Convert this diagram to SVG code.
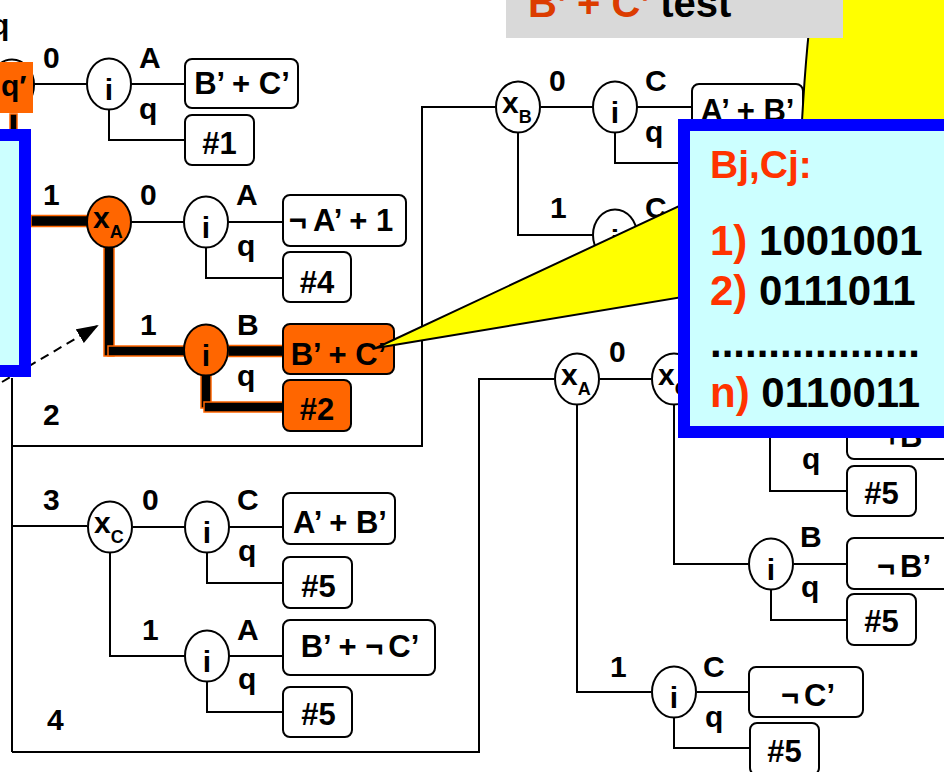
<svg xmlns="http://www.w3.org/2000/svg" width="944" height="772" viewBox="0 0 944 772">
<defs>
<style>
.ln{fill:none;stroke:#000;stroke-width:2}
.hl{fill:#000;stroke:#ff6600;stroke-width:1.5}
.nd{fill:#fff;stroke:#000;stroke-width:2}
.ndo{fill:#ff6600;stroke:#000;stroke-width:2}
.bx{fill:#fff;stroke:#000;stroke-width:2}
.bxo{fill:#ff6600;stroke:#000;stroke-width:2}
text{font-family:"Liberation Sans",Arial,Helvetica,sans-serif;font-weight:bold;fill:#000}
.lb{font-size:30px}
.bt{font-size:31px;text-anchor:middle}
.nt{font-size:30px;text-anchor:middle}
.xt{font-size:30px}
.sub{font-size:18px}
.ct{font-size:42px}
.red{fill:#ff3300}
.panel{fill:#ccffff;stroke:#0000ff;stroke-width:12}
</style>
<marker id="ah" markerUnits="userSpaceOnUse" markerWidth="22" markerHeight="16" refX="20" refY="8" orient="auto"><path d="M0,0 L22,8 L0,16 Z" fill="#000"/></marker>
</defs>
<rect x="0" y="0" width="944" height="772" fill="#fff"/>

<g id="connectors">
<path class="ln" d="M34,84 H87 M131,84 H185 M109,109 V140 H185 M131,222 H184 M228,222 H283 M206,247 V278 H283"/>
<path class="ln" d="M12,378 V752 M12,446 H422 V107 H495 M541,107 H593 M637,107 H700 M615,132 V163 H700 M518,133 V235 H593 M637,235 H700"/>
<path class="ln" d="M12,526 H87 M133,527 H185 M229,527 H283 M207,552 V583 H283 M110,553 V656 H185 M229,656 H283 M207,681 V712 H283"/>
<path class="ln" d="M12,752 H479 V379 H554 M600,379 H651 M697,379 H748 M577,405 V692 H651 M697,692 H749 M674,718 V748 H750 M674,405 V564 H748 M794,564 H847 M771,589 V620 H847 M770,430 V491 H847"/>
<path class="ln" d="M2,382 L97,326" stroke-width="2.5" stroke-dasharray="9 6" marker-end="url(#ah)"/>
<rect class="hl" x="10" y="114" width="7" height="16"/>
<rect class="hl" x="31" y="215.5" width="57" height="11"/>
<rect class="hl" x="104" y="246" width="10" height="110"/>
<rect class="hl" x="108" y="346" width="77" height="10"/>
<rect class="hl" x="228" y="345.5" width="56" height="11"/>
<rect class="hl" x="201" y="375" width="10" height="33"/>
<rect class="hl" x="204" y="402" width="80" height="10"/>
</g>

<g id="edge-labels">
<text class="lb" x="-9" y="35">q</text>
<text class="lb" x="43" y="68">0</text>
<text class="lb" x="139" y="68">A</text>
<text class="lb" x="139" y="119">q</text>
<text class="lb" x="43" y="205">1</text>
<text class="lb" x="140" y="205">0</text>
<text class="lb" x="236" y="205">A</text>
<text class="lb" x="237" y="256">q</text>
<text class="lb" x="140" y="335">1</text>
<text class="lb" x="237" y="335">B</text>
<text class="lb" x="237" y="386">q</text>
<text class="lb" x="43" y="425">2</text>
<text class="lb" x="549" y="91">0</text>
<text class="lb" x="645" y="91">C</text>
<text class="lb" x="645" y="142">q</text>
<text class="lb" x="550" y="218">1</text>
<text class="lb" x="645" y="218">C</text>
<text class="lb" x="43" y="510">3</text>
<text class="lb" x="142" y="510">0</text>
<text class="lb" x="237" y="510">C</text>
<text class="lb" x="238" y="561">q</text>
<text class="lb" x="142" y="640">1</text>
<text class="lb" x="237" y="640">A</text>
<text class="lb" x="238" y="689">q</text>
<text class="lb" x="47" y="730">4</text>
<text class="lb" x="609" y="362">0</text>
<text class="lb" x="610" y="677">1</text>
<text class="lb" x="703" y="677">C</text>
<text class="lb" x="705" y="727">q</text>
<text class="lb" x="800" y="547">B</text>
<text class="lb" x="801" y="597">q</text>
<text class="lb" x="802" y="469">q</text>
</g>

<g id="node-qprime">
<ellipse class="nd" cx="12" cy="85" rx="22" ry="25.5"/>
<rect x="0" y="62" width="33" height="51" fill="#ff6600"/>
<text class="xt" x="1" y="96">q′</text>
</g>
<g id="node-i1"><ellipse class="nd" cx="109" cy="84" rx="22" ry="25.5"/><text class="nt" x="109" y="100">i</text></g>
<g id="box-1a"><rect class="bx" x="185" y="59" width="113" height="49" rx="7"/><text class="bt" x="242" y="94">B’ + C’</text></g>
<g id="box-1b"><rect class="bx" x="185" y="115" width="69" height="50" rx="7"/><text class="bt" x="219.5" y="154">#1</text></g>

<g id="node-xA1"><ellipse class="ndo" cx="109" cy="222" rx="22" ry="25.5"/><text class="xt" x="93" y="228">x<tspan class="sub" dy="10">A</tspan></text></g>
<g id="node-i2"><ellipse class="nd" cx="206" cy="222" rx="22" ry="25.5"/><text class="nt" x="206" y="238">i</text></g>
<g id="box-2a"><rect class="bx" x="283" y="195" width="123" height="51" rx="7"/><text class="bt" x="341" y="231">¬<tspan dx="6">A’ + 1</tspan></text></g>
<g id="box-2b"><rect class="bx" x="283" y="252" width="68" height="50" rx="7"/><text class="bt" x="317" y="293">#4</text></g>
<g id="node-i3"><ellipse class="ndo" cx="206" cy="350" rx="22" ry="25.5"/><text class="nt" x="206" y="366">i</text></g>
<g id="box-3a"><rect class="bxo" x="283" y="324" width="111" height="50" rx="7"/><text class="bt" x="338.5" y="365">B’ + C’</text></g>
<g id="box-3b"><rect class="bxo" x="283" y="380" width="68" height="51" rx="7"/><text class="bt" x="317" y="420">#2</text></g>

<g id="node-xB"><ellipse class="nd" cx="518" cy="107" rx="22" ry="25.5"/><text class="xt" x="502" y="113">x<tspan class="sub" dy="10">B</tspan></text></g>
<g id="node-i4"><ellipse class="nd" cx="615" cy="107" rx="22" ry="25.5"/><text class="nt" x="615" y="123">i</text></g>
<g id="box-4a"><rect class="bx" x="692" y="84" width="111" height="50" rx="7"/><text class="bt" x="747.5" y="121">A’ + B’</text></g>
<g id="node-i5"><ellipse class="nd" cx="615" cy="235" rx="22" ry="25.5"/><text class="nt" x="615" y="251">i</text></g>

<g id="node-xC1"><ellipse class="nd" cx="110" cy="527" rx="22" ry="25.5"/><text class="xt" x="94" y="533">x<tspan class="sub" dy="10">C</tspan></text></g>
<g id="node-i6"><ellipse class="nd" cx="207" cy="527" rx="22" ry="25.5"/><text class="nt" x="207" y="543">i</text></g>
<g id="box-6a"><rect class="bx" x="283" y="493" width="112" height="51" rx="7"/><text class="bt" x="340" y="533">A’ + B’</text></g>
<g id="box-6b"><rect class="bx" x="283" y="557" width="69" height="51" rx="7"/><text class="bt" x="318.5" y="597">#5</text></g>
<g id="node-i7"><ellipse class="nd" cx="207" cy="656" rx="22" ry="25.5"/><text class="nt" x="207" y="672">i</text></g>
<g id="box-7a"><rect class="bx" x="283" y="620" width="152" height="55" rx="7"/><text class="bt" x="360" y="657">B’ + ¬<tspan dx="5">C’</tspan></text></g>
<g id="box-7b"><rect class="bx" x="283" y="687" width="69" height="50" rx="7"/><text class="bt" x="318.5" y="725">#5</text></g>

<g id="node-xA2"><ellipse class="nd" cx="577" cy="379" rx="22" ry="25.5"/><text class="xt" x="561" y="385">x<tspan class="sub" dy="10">A</tspan></text></g>
<g id="node-xC2"><ellipse class="nd" cx="674" cy="379" rx="22" ry="25.5"/><text class="xt" x="658" y="385">x<tspan class="sub" dy="10">C</tspan></text></g>
<g id="box-8a"><rect class="bx" x="847" y="409" width="113" height="50" rx="7"/><text class="bt" x="904" y="447">¬<tspan dx="5">B’</tspan></text></g>
<g id="box-8b"><rect class="bx" x="847" y="466" width="69" height="50" rx="7"/><text class="bt" x="881.5" y="504">#5</text></g>
<g id="node-i9"><ellipse class="nd" cx="771" cy="564" rx="22" ry="25.5"/><text class="nt" x="771" y="580">i</text></g>
<g id="box-9a"><rect class="bx" x="847" y="538" width="113" height="51" rx="7"/><text class="bt" x="904" y="577">¬<tspan dx="5">B’</tspan></text></g>
<g id="box-9b"><rect class="bx" x="847" y="594" width="69" height="51" rx="7"/><text class="bt" x="881.5" y="632">#5</text></g>
<g id="node-i10"><ellipse class="nd" cx="674" cy="692" rx="22" ry="25.5"/><text class="nt" x="674" y="708">i</text></g>
<g id="box-10a"><rect class="bx" x="749" y="667" width="114" height="50" rx="7"/><text class="bt" x="808" y="706">¬<tspan dx="5">C’</tspan></text></g>
<g id="box-10b"><rect class="bx" x="750" y="723" width="69" height="52" rx="7"/><text class="bt" x="784.5" y="762">#5</text></g>

<g id="left-panel"><rect class="panel" x="-20" y="135" width="45" height="236"/></g>

<g id="callout">
<path d="M814,-10 C808,30 804,80 801,140 L800,420 L970,420 L970,-10 Z" fill="#ffff00" stroke="#000" stroke-width="2"/>
<path d="M376,348 L740,177.5 L740,287.5 Z" fill="#ffff00" stroke="#000" stroke-width="2"/>
</g>

<g id="title">
<rect x="506" y="-2" width="337" height="40" fill="#d9d9d9"/>
<text x="528" y="16.5" font-size="40"><tspan fill="#dc3c00">B’ + C’</tspan> test</text>
</g>

<g id="info-panel">
<rect class="panel" x="684" y="125" width="300" height="307"/>
<text class="red" x="710" y="178" font-size="39">Bj,Cj:</text>
<text class="ct" x="710" y="255"><tspan class="red">1)</tspan> 1001001</text>
<text class="ct" x="710" y="305"><tspan class="red">2)</tspan> 0111011</text>
<text class="ct" x="710" y="357">..................</text>
<text class="ct" x="710" y="407"><tspan class="red">n)</tspan> 0110011</text>
</g>
</svg>
